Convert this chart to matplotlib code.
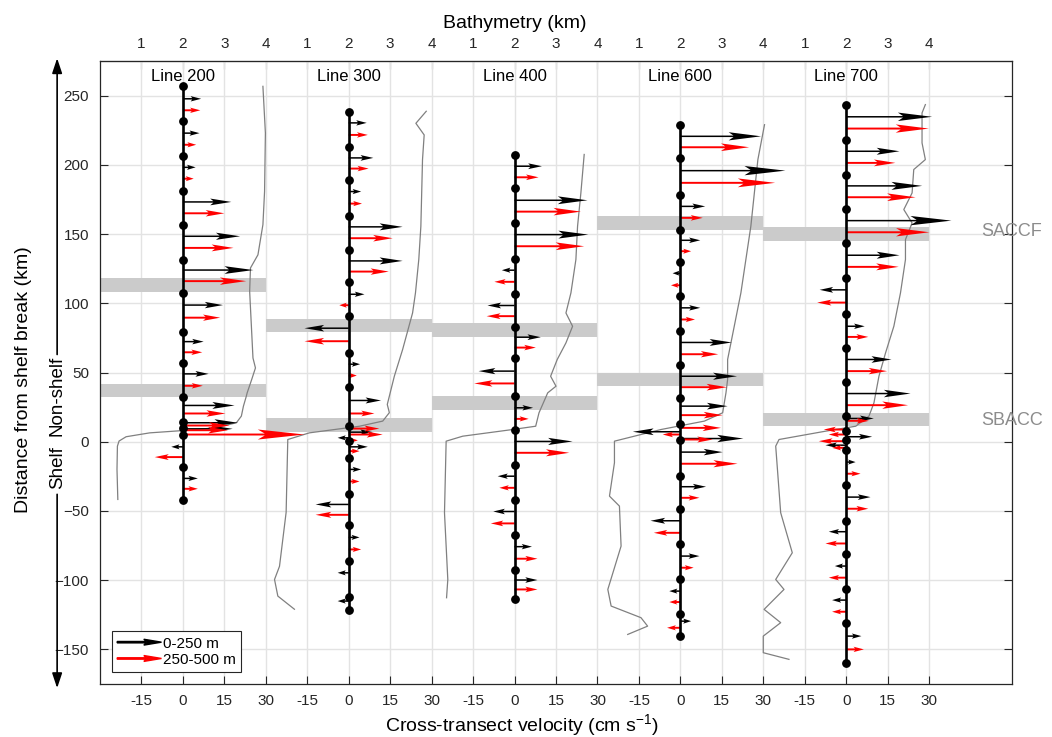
import numpy as np
import matplotlib
matplotlib.use('Agg')
import matplotlib.pyplot as plt
import matplotlib.patches as mpatches
import matplotlib.transforms as mtransforms
from matplotlib.legend_handler import HandlerPatch

plt.rcParams['font.family'] = ['Liberation Sans', 'DejaVu Sans']
plt.rcParams['mathtext.fontset'] = 'custom'
plt.rcParams['mathtext.rm'] = 'Liberation Sans'
plt.rcParams['mathtext.it'] = 'Liberation Sans:italic'

# ---------------- data ----------------
line_names = ["Line 200", "Line 300", "Line 400", "Line 600", "Line 700"]
vel_tick_values = [-15, 0, 15, 30]          # cm/s, per panel
bathy_tick_values = [1, 2, 3, 4]            # km, per panel
front_names = ["SACCF", "SBACC"]

# station positions (km from shelf break)
st200 = [256.7, 231.5, 206.2, 181.4, 156.8, 131.6, 107.5, 79.4, 57.0, 32.5, 14.4, 10.0, 5.2, -18.1, -42.2]
st300 = [238.2, 213.0, 189.4, 163.4, 138.3, 115.2, 90.7, 64.2, 39.6, 11.2, 0.4, -11.6, -37.4, -60.5, -86.2, -112.0, -121.8]
st400 = [207.4, 183.3, 158.0, 132.3, 106.8, 82.7, 60.6, 32.9, 8.4, -16.6, -42.2, -67.2, -93.0, -113.9]
st600 = [229.0, 205.0, 178.5, 153.2, 129.9, 104.9, 80.3, 55.1, 31.7, 12.9, 1.6, -24.9, -48.9, -73.7, -99.5, -124.7, -140.4]
st700 = [243.5, 218.2, 193.0, 168.2, 143.6, 118.4, 91.9, 67.8, 43.0, 18.9, 7.6, 1.6, -6.3, -31.6, -57.4, -81.4, -106.2, -130.7, -159.6]

# 0-250 m velocities: positions (km) and cross-transect velocity (cm/s)
y_up200 = [247.7, 222.9, 198.2, 173.2, 148.4, 124.0, 98.7, 72.3, 49.0, 26.2, 13.7, 9.3, -3.7, -26.5]
u_up200 = [6.6, 6.0, 4.6, 17.5, 20.7, 25.5, 14.5, 7.5, 9.3, 18.7, 19.9, 18.0, -4.2, 5.4]
y_up300 = [230.3, 205.0, 180.7, 155.2, 130.6, 106.5, 82.0, 56.0, 29.8, 6.9, 2.8, -3.7, -20.0, -45.3, -69.1, -94.7, -115.1]
u_up300 = [6.5, 8.9, 4.5, 19.5, 19.5, 5.7, -16.0, 4.1, 11.7, 8.7, -4.0, 6.9, 4.5, -12.0, 3.9, -4.0, -4.0]
y_up400 = [199.0, 174.4, 149.6, 123.9, 98.4, 75.5, 51.0, 24.5, 0.2, -24.9, -50.4, -75.8, -99.9]
u_up400 = [9.9, 26.4, 26.7, -4.6, -9.8, 9.5, -13.0, 6.7, 21.0, -6.1, -7.7, 6.3, 8.3]
y_up600 = [220.6, 195.8, 170.0, 145.5, 121.7, 96.7, 71.7, 47.3, 25.7, 7.2, 2.3, -7.5, -32.5, -57.1, -82.6, -107.9, -129.6]
u_up600 = [29.2, 38.0, 9.0, 7.2, -2.8, 7.2, 18.6, 20.5, 17.1, -17.2, 22.8, 15.3, 9.3, -10.8, 6.9, -4.0, 3.9]
y_up700 = [234.7, 209.8, 184.8, 159.7, 134.7, 109.7, 83.4, 59.4, 34.8, 16.8, 3.6, -2.5, -14.7, -40.0, -65.0, -89.8, -114.4, -140.4]
u_up700 = [31.1, 19.3, 27.5, 38.1, 19.3, -9.6, 6.7, 16.4, 23.3, 10.0, 9.4, -7.5, 3.4, 8.8, -6.3, -4.1, -5.1, 5.5]

# 250-500 m velocities
y_lo200 = [239.4, 214.5, 190.0, 165.0, 140.0, 116.0, 89.6, 64.6, 40.4, 20.4, 11.7, 8.3, 5.2, -11.1, -34.0]
u_lo200 = [6.3, 4.8, 3.9, 15.0, 18.3, 22.9, 13.5, 7.0, 7.2, 15.4, 16.9, 16.3, 44.0, -10.2, 5.4]
y_lo300 = [221.6, 197.3, 172.0, 147.0, 122.9, 98.6, 72.6, 47.8, 20.4, 9.5, 5.2, 1.0, -6.8, -28.7, -52.8, -77.8]
u_lo300 = [6.9, 7.2, 4.8, 15.9, 14.5, -3.4, -16.0, 2.9, 9.3, 11.1, 12.3, 3.3, 3.9, 3.9, -12.0, 4.5]
y_lo400 = [191.0, 166.2, 141.2, 115.5, 90.7, 68.0, 42.1, 16.5, -8.0, -33.3, -59.0, -84.5, -106.7]
u_lo400 = [8.7, 24.0, 25.2, -7.3, -10.1, 7.7, -14.6, 5.1, 19.8, -5.5, -8.6, 8.3, 8.3]
y_lo600 = [212.7, 187.0, 161.7, 137.6, 113.0, 88.3, 63.2, 39.4, 19.2, 10.0, 5.2, 1.6, -15.9, -40.5, -65.8, -91.0, -115.8, -134.4]
u_lo600 = [24.9, 34.3, 8.1, 3.9, -3.4, 5.3, 13.7, 16.9, 15.3, 14.7, -6.4, 11.7, 20.7, 6.9, -9.6, 4.8, -4.0, -4.8]
y_lo700 = [226.2, 201.4, 176.6, 151.3, 126.3, 100.5, 75.7, 51.0, 26.4, 15.1, 8.8, 5.2, 0.4, -4.4, -23.1, -48.4, -73.5, -98.2, -122.8, -150.0]
u_lo700 = [29.9, 17.8, 25.1, 30.1, 19.0, -10.5, 8.0, 14.8, 22.4, 8.2, -8.1, -6.3, -9.9, -5.1, 5.2, 8.0, -7.5, -6.3, -5.1, 6.4]

# bathymetry along each line: distance (km) and depth (km)
bd200 = [256.7, 222.9, 180.8, 156.8, 135.0, 125.5, 108.6, 84.6, 60.5, 53.3, 45.0, 35.3, 32.9, 25.7, 18.5, 13.7, 10.1, 8.4, 6.4, 3.6, 0.5, -3.2, -20.0, -41.7]
bz200 = [3.93, 3.99, 3.97, 3.93, 3.81, 3.63, 3.61, 3.65, 3.69, 3.75, 3.66, 3.55, 3.53, 3.46, 3.41, 3.29, 2.80, 2.16, 1.20, 0.63, 0.46, 0.42, 0.41, 0.43]
bd300 = [238.7, 230.0, 221.6, 203.8, 155.6, 131.6, 107.5, 93.0, 66.6, 47.3, 37.7, 26.9, 21.0, 14.9, 11.2, 6.4, 1.6, -51.0, -90.0, -99.5, -111.5, -121.0]
bz300 = [3.87, 3.62, 3.82, 3.78, 3.74, 3.69, 3.61, 3.54, 3.30, 3.10, 3.02, 2.93, 2.98, 2.82, 2.26, 1.05, 0.53, 0.49, 0.33, 0.21, 0.29, 0.69]
bd400 = [207.5, 179.7, 155.6, 131.6, 107.5, 93.0, 83.4, 71.4, 59.4, 47.3, 40.1, 35.3, 20.9, 11.2, 8.8, 4.0, 0.4, -51.3, -99.5, -112.7]
bz400 = [3.68, 3.60, 3.52, 3.48, 3.36, 3.24, 3.40, 3.24, 3.03, 2.87, 3.00, 2.80, 2.59, 2.51, 1.95, 0.75, 0.35, 0.31, 0.39, 0.36]
bd600 = [229.0, 203.8, 155.6, 107.5, 83.4, 59.4, 45.0, 35.3, 20.9, 14.9, 8.8, 0.4, -15.2, -39.3, -46.5, -75.4, -106.7, -118.7, -127.1, -133.2, -139.2]
bz600 = [4.03, 3.87, 3.70, 3.46, 3.30, 3.14, 3.14, 3.10, 3.02, 2.58, 1.53, 0.41, 0.41, 0.29, 0.53, 0.57, 0.25, 0.33, 1.05, 1.21, 0.73]
bd700 = [243.5, 237.5, 215.8, 203.8, 196.6, 179.7, 167.7, 158.0, 146.0, 131.6, 107.5, 83.4, 64.2, 47.3, 28.1, 18.5, 11.2, 7.6, 1.6, -3.2, -51.3, -80.2, -99.5, -106.7, -121.1, -130.7, -140.4, -152.4, -157.2]
bz700 = [3.91, 3.83, 3.83, 3.91, 3.63, 3.59, 3.39, 3.59, 3.43, 3.43, 3.31, 3.15, 2.95, 2.79, 2.67, 2.55, 2.23, 1.50, 0.38, 0.30, 0.42, 0.70, 0.30, 0.50, 0.02, 0.42, 0.00, 0.00, 0.62]

# front positions (km) per line: [SACCF, SBACC]
fronts200 = [113, 37]
fronts300 = [84, 12]
fronts400 = [81, 28]
fronts600 = [158, 45]
fronts700 = [150, 16]

stations = [st200, st300, st400, st600, st700]
y_up = [y_up200, y_up300, y_up400, y_up600, y_up700]
u_up = [u_up200, u_up300, u_up400, u_up600, u_up700]
y_lo = [y_lo200, y_lo300, y_lo400, y_lo600, y_lo700]
u_lo = [u_lo200, u_lo300, u_lo400, u_lo600, u_lo700]
bathy_d = [bd200, bd300, bd400, bd600, bd700]
bathy_z = [bz200, bz300, bz400, bz600, bz700]
fronts = [fronts200, fronts300, fronts400, fronts600, fronts700]

# ---------------- layout / style ----------------
PANEL_W = 60.0          # cm/s spanned by each panel
KM_TO_VEL = 15.0        # 1 km of bathymetry drawn as 15 cm/s
BATHY_REF = 2.0         # bathymetry drawn relative to 2 km
FRONT_HALF = 5.0
AX_COLOR = '#262626'
GRID_COLOR = '#e3e3e3'
N = len(line_names)

fig = plt.figure(figsize=(10.52, 7.37), dpi=100)
ax = fig.add_axes([100 / 1052, 1 - 684 / 737, 912 / 1052, 623 / 737])
ax.set_xlim(-PANEL_W / 2, PANEL_W * N)
ax.set_ylim(-175, 275)


def draw_arrows(c, ys, us, color, shaft):
    for y, u in zip(ys, us):
        L = abs(u)
        hl = min(L, 0.35 * L + 1.5)
        hw = 3.3 + 0.09 * L
        ax.arrow(c, y, u, 0, width=shaft, head_width=hw, head_length=hl,
                 length_includes_head=True, fc=color, ec='none', lw=0,
                 overhang=0.15, zorder=4)


for i in range(N):
    c = PANEL_W * i
    for f in fronts[i]:
        ax.fill_between([c - PANEL_W / 2, c + PANEL_W / 2], f - FRONT_HALF, f + FRONT_HALF,
                        color='#cbcbcb', lw=0, zorder=2)
    bx = c + (np.array(bathy_z[i]) - BATHY_REF) * KM_TO_VEL
    ax.plot(bx, bathy_d[i], color='#808080', lw=0.9, zorder=3)
    draw_arrows(c, y_up[i], u_up[i], 'black', 1.1)
    draw_arrows(c, y_lo[i], u_lo[i], '#ff0000', 1.4)
    st = stations[i]
    ax.plot([c, c], [min(st), max(st)], color='black', lw=1.9, zorder=5, solid_capstyle='butt')
    ax.plot([c] * len(st), st, 'o', color='black', ms=5.3, zorder=6)
    ax.text(c, 264, line_names[i], ha='center', va='center', fontsize=12, color='black', zorder=7)

# front labels (right margin)
ax.text(PANEL_W * N, fronts700[0] + 1.5, front_names[0], ha='center', va='center',
        fontsize=13, color='#8c8c8c', clip_on=False)
ax.text(PANEL_W * N, fronts700[1] - 0.5, front_names[1], ha='center', va='center',
        fontsize=13, color='#8c8c8c', clip_on=False)

# ticks
bot_pos, bot_lab, top_pos, top_lab = [], [], [], []
for i in range(N):
    c = PANEL_W * i
    for v in vel_tick_values:
        bot_pos.append(c + v)
        bot_lab.append(str(v))
    for b in bathy_tick_values:
        top_pos.append(c + (b - BATHY_REF) * KM_TO_VEL)
        top_lab.append(str(b))
ax.set_xticks(bot_pos)
ax.set_xticklabels(bot_lab)
ax.set_yticks(np.arange(-150, 251, 50))
ax.tick_params(axis='both', direction='in', length=6, width=0.8, labelsize=11,
               colors=AX_COLOR, right=True, top=False)
ax.tick_params(axis='x', pad=7)
ax.tick_params(axis='y', pad=8)
ax.grid(True, color=GRID_COLOR, lw=1.0)
ax.set_axisbelow(True)
for s in ax.spines.values():
    s.set_color(AX_COLOR)
    s.set_linewidth(0.9)

secax = ax.secondary_xaxis('top')
secax.set_xticks(top_pos)
secax.set_xticklabels(top_lab)
secax.tick_params(direction='in', length=6, width=0.8, labelsize=11, colors=AX_COLOR, pad=7)
secax.spines['top'].set_color(AX_COLOR)
secax.set_xlabel('Bathymetry (km)', fontsize=14, color='black')
secax.xaxis.set_label_coords(0.455, 1.053, transform=ax.transAxes)

ax.set_xlabel(r'Cross-transect velocity (cm s$^{-1}$)', fontsize=14, color='black')
ax.xaxis.set_label_coords(0.463, -0.045)
ax.set_ylabel('Distance from shelf break (km)', fontsize=14, color='black')
ax.yaxis.set_label_coords(-0.075, 0.488)

# shelf / non-shelf arrows
trans = mtransforms.blended_transform_factory(ax.transAxes, ax.transData)
xa = -0.047
ap = dict(arrowstyle='-|>,head_length=0.45,head_width=0.15', color='black', lw=1.2,
          mutation_scale=20, shrinkA=0, shrinkB=0)
ax.annotate('', xy=(xa, 277), xytext=(xa, 63), xycoords=trans, textcoords=trans,
            arrowprops=ap, annotation_clip=False)
ax.annotate('', xy=(xa, -178), xytext=(xa, -38), xycoords=trans, textcoords=trans,
            arrowprops=ap, annotation_clip=False)
ax.text(xa, 4, 'Non-shelf', transform=trans, rotation=90, ha='center', va='bottom',
        fontsize=13.5, color='black')
ax.text(xa, -3, 'Shelf', transform=trans, rotation=90, ha='center', va='top',
        fontsize=13.5, color='black')


def make_legend_arrow(legend, orig_handle, xdescent, ydescent, width, height, fontsize):
    return mpatches.FancyArrow(-xdescent, -ydescent + height / 2, width, 0,
                               width=height * 0.13, head_width=height * 0.55,
                               head_length=width * 0.4, length_includes_head=True,
                               overhang=0.15)


handles = [mpatches.Patch(color='black', label='0-250 m'),
           mpatches.Patch(color='#ff0000', label='250-500 m')]
leg = ax.legend(handles=handles, loc='lower left', bbox_to_anchor=(0.013, 0.019),
                borderaxespad=0, fontsize=11, frameon=True, fancybox=False,
                edgecolor=AX_COLOR, framealpha=1, handlelength=2.9, handletextpad=0.1,
                labelspacing=0.15, borderpad=0.35,
                handler_map={mpatches.Patch: HandlerPatch(patch_func=make_legend_arrow)})
leg.get_frame().set_linewidth(0.8)
leg.set_zorder(10)

fig.savefig('out.png', dpi=100)
